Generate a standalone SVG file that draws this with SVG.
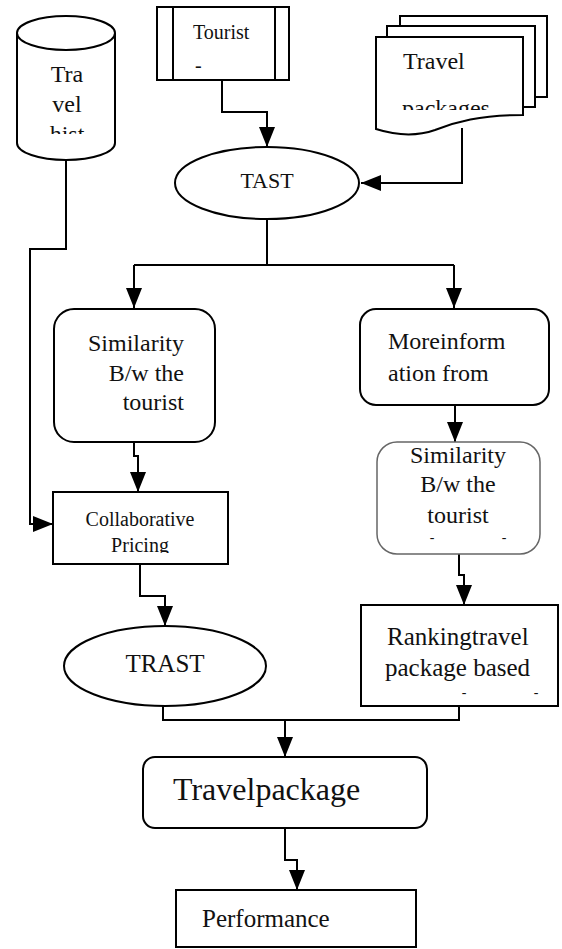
<svg xmlns="http://www.w3.org/2000/svg" width="562" height="949" viewBox="0 0 562 949">
<style>
.s{fill:#fff;stroke:#000;stroke-width:2}
.c{fill:none;stroke:#000;stroke-width:2}
.t{font-family:'Liberation Serif','Times New Roman','DejaVu Serif',serif;fill:#111}
</style>
<defs>
<marker id="a" markerUnits="userSpaceOnUse" markerWidth="20" markerHeight="16" refX="20" refY="8" orient="auto"><path d="M0,0 L20,8 L0,16 Z" fill="#000"/></marker>
<clipPath id="cyl"><rect x="0" y="0" width="140" height="134"/></clipPath>
<clipPath id="doc"><rect x="370" y="30" width="160" height="80"/></clipPath>
<clipPath id="col"><rect x="50" y="490" width="180" height="63"/></clipPath>
</defs>
<rect width="562" height="949" fill="#fff"/>
<g id="connectors">
<path class="c" d="M222,80 V112 H267 V147" marker-end="url(#a)"/>
<path class="c" d="M462,128 V183 H361" marker-end="url(#a)"/>
<path class="c" d="M267,219 V265"/>
<path class="c" d="M134,265 H454"/>
<path class="c" d="M134,265 V308" marker-end="url(#a)"/>
<path class="c" d="M454,265 V308" marker-end="url(#a)"/>
<path class="c" d="M66,160 V249 H30 V524 H53" marker-end="url(#a)"/>
<path class="c" d="M134,442 V456 H138 V492" marker-end="url(#a)"/>
<path class="c" d="M140,564 V596 H165 V626" marker-end="url(#a)"/>
<path class="c" d="M455,405 V442" marker-end="url(#a)"/>
<path class="c" d="M459,554 V575 H464 V605" marker-end="url(#a)"/>
<path class="c" d="M163,706 V720 H459 V706"/>
<path class="c" d="M285,720 V757" marker-end="url(#a)"/>
<path class="c" d="M285,828 V860 H297 V890" marker-end="url(#a)"/>
</g>
<g id="travel-hist">
<path class="s" d="M17,33 V143 A49,17 0 0 0 115,143 V33"/>
<ellipse class="s" cx="66" cy="33" rx="49" ry="17"/>
<g clip-path="url(#cyl)" class="t" font-size="24" text-anchor="middle">
<text x="67" y="82">Tra</text>
<text x="67" y="112">vel</text>
<text x="67" y="142">hist</text>
</g>
</g>
<g id="tourist">
<rect class="s" x="157" y="7" width="132" height="73"/>
<line class="c" x1="173" y1="7" x2="173" y2="80"/>
<line class="c" x1="275" y1="7" x2="275" y2="80"/>
<text class="t" x="193" y="39" font-size="20">Tourist</text>
<text class="t" x="195" y="72" font-size="20">-</text>
</g>
<g id="travel-packages">
<rect class="s" x="400" y="16" width="147" height="81"/>
<rect class="s" x="387" y="26" width="148" height="81"/>
<path class="s" d="M376,37 H523 V115 C480,115 455,122 435,130 C415,137 395,135 376,129 Z"/>
<text class="t" x="403" y="69" font-size="24">Travel</text>
<text class="t" x="402" y="116" font-size="24" clip-path="url(#doc)">packages</text>
</g>
<g id="tast">
<ellipse class="s" cx="267" cy="183" rx="92" ry="36"/>
<text class="t" x="267" y="188" font-size="22" text-anchor="middle">TAST</text>
</g>
<g id="similarity-1">
<rect class="s" x="54" y="309" width="161" height="133" rx="20"/>
<g class="t" font-size="24" text-anchor="end">
<text x="184" y="351">Similarity</text>
<text x="184" y="381">B/w the</text>
<text x="184" y="410">tourist</text>
</g>
</g>
<g id="more-information">
<rect class="s" x="360" y="309" width="189" height="96" rx="16"/>
<text class="t" x="388" y="349" font-size="24">Moreinform</text>
<text class="t" x="388" y="381" font-size="24">ation from</text>
</g>
<g id="similarity-2">
<rect x="377" y="442" width="163" height="112" rx="20" fill="#fff" stroke="#666" stroke-width="1.5"/>
<g class="t" font-size="24" text-anchor="middle">
<text x="458" y="463">Similarity</text>
<text x="458" y="492">B/w the</text>
<text x="458" y="523">tourist</text>
</g>
<text class="t" x="432" y="542" font-size="14" text-anchor="middle">-</text>
<text class="t" x="504" y="542" font-size="14" text-anchor="middle">-</text>
</g>
<g id="collaborative-pricing">
<rect class="s" x="53" y="492" width="175" height="72"/>
<g clip-path="url(#col)" class="t" font-size="20" text-anchor="middle">
<text x="140" y="526">Collaborative</text>
<text x="140" y="552">Pricing</text>
</g>
</g>
<g id="trast">
<ellipse class="s" cx="165" cy="666" rx="101" ry="40"/>
<text class="t" x="165" y="672" font-size="25" text-anchor="middle">TRAST</text>
</g>
<g id="ranking">
<rect class="s" x="361" y="605" width="197" height="101"/>
<text class="t" x="387" y="645" font-size="25">Rankingtravel</text>
<text class="t" x="385" y="676" font-size="25">package  based</text>
<text class="t" x="464" y="697" font-size="14" text-anchor="middle">-</text>
<text class="t" x="536" y="697" font-size="14" text-anchor="middle">-</text>
</g>
<g id="travelpackage">
<rect class="s" x="143" y="757" width="284" height="71" rx="12"/>
<text class="t" x="173" y="800" font-size="32">Travelpackage</text>
</g>
<g id="performance">
<rect class="s" x="176" y="890" width="240" height="57"/>
<text class="t" x="202" y="927" font-size="25">Performance</text>
</g>
</svg>
